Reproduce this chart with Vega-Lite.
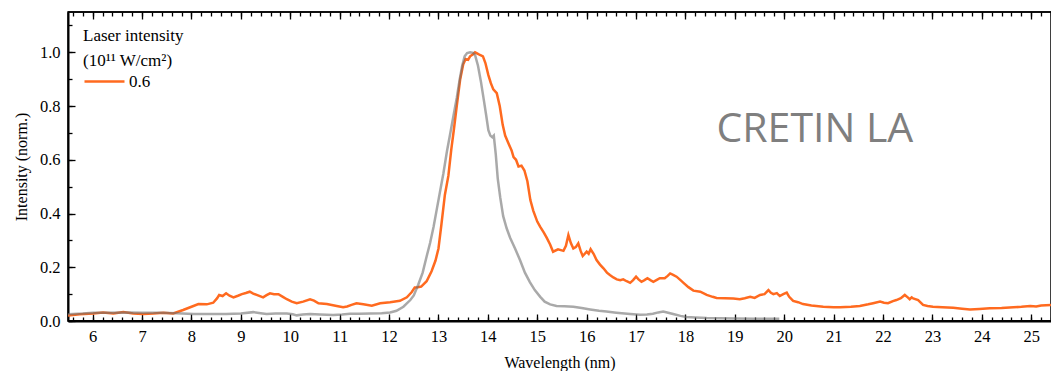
{
  "$schema": "https://vega.github.io/schema/vega-lite/v6.json",
  "width": 983,
  "height": 309,
  "autosize": {"type": "none"},
  "padding": {"left": 68, "top": 12, "right": 0, "bottom": 50},
  "background": "white",
  "config": {
    "view": {"stroke": "black", "strokeWidth": 1.5},
    "font": "Liberation Serif",
    "legend": {"titleFont": "Liberation Serif", "labelFont": "Liberation Serif"},
    "axis": {
      "grid": false,
      "domainColor": "black",
      "domainWidth": 2,
      "tickColor": "black",
      "tickWidth": 1.3,
      "labelColor": "black",
      "labelFont": "Liberation Serif",
      "labelFontSize": 16.5,
      "titleFont": "Liberation Serif",
      "titleFontSize": 16,
      "titleFontWeight": "normal",
      "titleColor": "black",
      "labelOverlap": false,
      "labelFlush": false,
      "labelBound": false
    }
  },
  "datasets": {
    "shot": [
      {"wavelength": 5.5, "intensity": 0.020, "laser": "0.6"},
      {"wavelength": 5.74, "intensity": 0.025, "laser": "0.6"},
      {"wavelength": 6.01, "intensity": 0.028, "laser": "0.6"},
      {"wavelength": 6.21, "intensity": 0.032, "laser": "0.6"},
      {"wavelength": 6.42, "intensity": 0.028, "laser": "0.6"},
      {"wavelength": 6.62, "intensity": 0.033, "laser": "0.6"},
      {"wavelength": 6.82, "intensity": 0.028, "laser": "0.6"},
      {"wavelength": 7.02, "intensity": 0.026, "laser": "0.6"},
      {"wavelength": 7.23, "intensity": 0.028, "laser": "0.6"},
      {"wavelength": 7.43, "intensity": 0.031, "laser": "0.6"},
      {"wavelength": 7.63, "intensity": 0.028, "laser": "0.6"},
      {"wavelength": 7.83, "intensity": 0.041, "laser": "0.6"},
      {"wavelength": 8.0, "intensity": 0.053, "laser": "0.6"},
      {"wavelength": 8.14, "intensity": 0.063, "laser": "0.6"},
      {"wavelength": 8.31, "intensity": 0.062, "laser": "0.6"},
      {"wavelength": 8.44, "intensity": 0.068, "laser": "0.6"},
      {"wavelength": 8.52, "intensity": 0.085, "laser": "0.6"},
      {"wavelength": 8.56, "intensity": 0.097, "laser": "0.6"},
      {"wavelength": 8.63, "intensity": 0.093, "laser": "0.6"},
      {"wavelength": 8.70, "intensity": 0.103, "laser": "0.6"},
      {"wavelength": 8.77, "intensity": 0.094, "laser": "0.6"},
      {"wavelength": 8.85, "intensity": 0.088, "laser": "0.6"},
      {"wavelength": 8.94, "intensity": 0.094, "laser": "0.6"},
      {"wavelength": 9.02, "intensity": 0.100, "laser": "0.6"},
      {"wavelength": 9.10, "intensity": 0.104, "laser": "0.6"},
      {"wavelength": 9.18, "intensity": 0.109, "laser": "0.6"},
      {"wavelength": 9.25, "intensity": 0.102, "laser": "0.6"},
      {"wavelength": 9.32, "intensity": 0.097, "laser": "0.6"},
      {"wavelength": 9.45, "intensity": 0.088, "laser": "0.6"},
      {"wavelength": 9.52, "intensity": 0.096, "laser": "0.6"},
      {"wavelength": 9.59, "intensity": 0.103, "laser": "0.6"},
      {"wavelength": 9.67, "intensity": 0.100, "laser": "0.6"},
      {"wavelength": 9.76, "intensity": 0.100, "laser": "0.6"},
      {"wavelength": 9.85, "intensity": 0.090, "laser": "0.6"},
      {"wavelength": 9.93, "intensity": 0.081, "laser": "0.6"},
      {"wavelength": 10.03, "intensity": 0.072, "laser": "0.6"},
      {"wavelength": 10.13, "intensity": 0.066, "laser": "0.6"},
      {"wavelength": 10.26, "intensity": 0.072, "laser": "0.6"},
      {"wavelength": 10.40, "intensity": 0.081, "laser": "0.6"},
      {"wavelength": 10.48, "intensity": 0.076, "laser": "0.6"},
      {"wavelength": 10.57, "intensity": 0.066, "laser": "0.6"},
      {"wavelength": 10.74, "intensity": 0.063, "laser": "0.6"},
      {"wavelength": 10.94, "intensity": 0.056, "laser": "0.6"},
      {"wavelength": 11.07, "intensity": 0.051, "laser": "0.6"},
      {"wavelength": 11.15, "intensity": 0.054, "laser": "0.6"},
      {"wavelength": 11.24, "intensity": 0.060, "laser": "0.6"},
      {"wavelength": 11.34, "intensity": 0.066, "laser": "0.6"},
      {"wavelength": 11.48, "intensity": 0.062, "laser": "0.6"},
      {"wavelength": 11.65, "intensity": 0.057, "laser": "0.6"},
      {"wavelength": 11.82, "intensity": 0.066, "laser": "0.6"},
      {"wavelength": 12.02, "intensity": 0.070, "laser": "0.6"},
      {"wavelength": 12.22, "intensity": 0.075, "laser": "0.6"},
      {"wavelength": 12.36, "intensity": 0.088, "laser": "0.6"},
      {"wavelength": 12.46, "intensity": 0.108, "laser": "0.6"},
      {"wavelength": 12.52, "intensity": 0.125, "laser": "0.6"},
      {"wavelength": 12.58, "intensity": 0.126, "laser": "0.6"},
      {"wavelength": 12.65, "intensity": 0.128, "laser": "0.6"},
      {"wavelength": 12.76, "intensity": 0.148, "laser": "0.6"},
      {"wavelength": 12.86, "intensity": 0.185, "laser": "0.6"},
      {"wavelength": 12.94, "intensity": 0.225, "laser": "0.6"},
      {"wavelength": 13.0, "intensity": 0.27, "laser": "0.6"},
      {"wavelength": 13.06, "intensity": 0.36, "laser": "0.6"},
      {"wavelength": 13.13, "intensity": 0.47, "laser": "0.6"},
      {"wavelength": 13.2, "intensity": 0.54, "laser": "0.6"},
      {"wavelength": 13.26, "intensity": 0.64, "laser": "0.6"},
      {"wavelength": 13.31, "intensity": 0.71, "laser": "0.6"},
      {"wavelength": 13.37, "intensity": 0.80, "laser": "0.6"},
      {"wavelength": 13.44, "intensity": 0.90, "laser": "0.6"},
      {"wavelength": 13.5, "intensity": 0.955, "laser": "0.6"},
      {"wavelength": 13.55, "intensity": 0.975, "laser": "0.6"},
      {"wavelength": 13.6, "intensity": 0.972, "laser": "0.6"},
      {"wavelength": 13.64, "intensity": 0.985, "laser": "0.6"},
      {"wavelength": 13.7, "intensity": 0.993, "laser": "0.6"},
      {"wavelength": 13.74, "intensity": 1.0, "laser": "0.6"},
      {"wavelength": 13.79, "intensity": 0.995, "laser": "0.6"},
      {"wavelength": 13.84, "intensity": 0.99, "laser": "0.6"},
      {"wavelength": 13.9, "intensity": 0.985, "laser": "0.6"},
      {"wavelength": 13.95, "intensity": 0.96, "laser": "0.6"},
      {"wavelength": 14.01, "intensity": 0.915, "laser": "0.6"},
      {"wavelength": 14.06, "intensity": 0.885, "laser": "0.6"},
      {"wavelength": 14.11, "intensity": 0.862, "laser": "0.6"},
      {"wavelength": 14.18, "intensity": 0.848, "laser": "0.6"},
      {"wavelength": 14.24, "intensity": 0.80, "laser": "0.6"},
      {"wavelength": 14.3, "intensity": 0.73, "laser": "0.6"},
      {"wavelength": 14.35, "intensity": 0.69, "laser": "0.6"},
      {"wavelength": 14.42, "intensity": 0.66, "laser": "0.6"},
      {"wavelength": 14.48, "intensity": 0.635, "laser": "0.6"},
      {"wavelength": 14.52, "intensity": 0.61, "laser": "0.6"},
      {"wavelength": 14.57, "intensity": 0.60, "laser": "0.6"},
      {"wavelength": 14.62, "intensity": 0.575, "laser": "0.6"},
      {"wavelength": 14.68, "intensity": 0.578, "laser": "0.6"},
      {"wavelength": 14.74, "intensity": 0.56, "laser": "0.6"},
      {"wavelength": 14.8, "intensity": 0.52, "laser": "0.6"},
      {"wavelength": 14.86, "intensity": 0.45, "laser": "0.6"},
      {"wavelength": 14.92, "intensity": 0.41, "laser": "0.6"},
      {"wavelength": 15.0, "intensity": 0.37, "laser": "0.6"},
      {"wavelength": 15.06, "intensity": 0.35, "laser": "0.6"},
      {"wavelength": 15.13, "intensity": 0.33, "laser": "0.6"},
      {"wavelength": 15.19, "intensity": 0.31, "laser": "0.6"},
      {"wavelength": 15.26, "intensity": 0.285, "laser": "0.6"},
      {"wavelength": 15.32, "intensity": 0.258, "laser": "0.6"},
      {"wavelength": 15.42, "intensity": 0.267, "laser": "0.6"},
      {"wavelength": 15.53, "intensity": 0.261, "laser": "0.6"},
      {"wavelength": 15.58, "intensity": 0.28, "laser": "0.6"},
      {"wavelength": 15.63, "intensity": 0.32, "laser": "0.6"},
      {"wavelength": 15.68, "intensity": 0.29, "laser": "0.6"},
      {"wavelength": 15.73, "intensity": 0.27, "laser": "0.6"},
      {"wavelength": 15.78, "intensity": 0.275, "laser": "0.6"},
      {"wavelength": 15.83, "intensity": 0.289, "laser": "0.6"},
      {"wavelength": 15.88, "intensity": 0.26, "laser": "0.6"},
      {"wavelength": 15.92, "intensity": 0.242, "laser": "0.6"},
      {"wavelength": 16.0, "intensity": 0.258, "laser": "0.6"},
      {"wavelength": 16.04, "intensity": 0.25, "laser": "0.6"},
      {"wavelength": 16.08, "intensity": 0.267, "laser": "0.6"},
      {"wavelength": 16.14, "intensity": 0.25, "laser": "0.6"},
      {"wavelength": 16.2, "intensity": 0.227, "laser": "0.6"},
      {"wavelength": 16.27, "intensity": 0.21, "laser": "0.6"},
      {"wavelength": 16.34, "intensity": 0.196, "laser": "0.6"},
      {"wavelength": 16.41, "intensity": 0.18, "laser": "0.6"},
      {"wavelength": 16.47, "intensity": 0.171, "laser": "0.6"},
      {"wavelength": 16.54, "intensity": 0.162, "laser": "0.6"},
      {"wavelength": 16.61, "intensity": 0.155, "laser": "0.6"},
      {"wavelength": 16.68, "intensity": 0.152, "laser": "0.6"},
      {"wavelength": 16.74, "intensity": 0.155, "laser": "0.6"},
      {"wavelength": 16.81, "intensity": 0.148, "laser": "0.6"},
      {"wavelength": 16.88, "intensity": 0.142, "laser": "0.6"},
      {"wavelength": 16.94, "intensity": 0.152, "laser": "0.6"},
      {"wavelength": 17.0, "intensity": 0.165, "laser": "0.6"},
      {"wavelength": 17.05, "intensity": 0.155, "laser": "0.6"},
      {"wavelength": 17.11, "intensity": 0.146, "laser": "0.6"},
      {"wavelength": 17.17, "intensity": 0.152, "laser": "0.6"},
      {"wavelength": 17.23, "intensity": 0.159, "laser": "0.6"},
      {"wavelength": 17.29, "intensity": 0.152, "laser": "0.6"},
      {"wavelength": 17.35, "intensity": 0.146, "laser": "0.6"},
      {"wavelength": 17.42, "intensity": 0.153, "laser": "0.6"},
      {"wavelength": 17.48, "intensity": 0.159, "laser": "0.6"},
      {"wavelength": 17.58, "intensity": 0.159, "laser": "0.6"},
      {"wavelength": 17.64, "intensity": 0.168, "laser": "0.6"},
      {"wavelength": 17.69, "intensity": 0.177, "laser": "0.6"},
      {"wavelength": 17.75, "intensity": 0.172, "laser": "0.6"},
      {"wavelength": 17.82, "intensity": 0.165, "laser": "0.6"},
      {"wavelength": 17.9, "intensity": 0.152, "laser": "0.6"},
      {"wavelength": 17.96, "intensity": 0.142, "laser": "0.6"},
      {"wavelength": 18.06, "intensity": 0.126, "laser": "0.6"},
      {"wavelength": 18.16, "intensity": 0.113, "laser": "0.6"},
      {"wavelength": 18.3, "intensity": 0.109, "laser": "0.6"},
      {"wavelength": 18.43, "intensity": 0.097, "laser": "0.6"},
      {"wavelength": 18.55, "intensity": 0.09, "laser": "0.6"},
      {"wavelength": 18.63, "intensity": 0.086, "laser": "0.6"},
      {"wavelength": 18.8, "intensity": 0.085, "laser": "0.6"},
      {"wavelength": 18.97, "intensity": 0.084, "laser": "0.6"},
      {"wavelength": 19.1, "intensity": 0.081, "laser": "0.6"},
      {"wavelength": 19.2, "intensity": 0.085, "laser": "0.6"},
      {"wavelength": 19.31, "intensity": 0.09, "laser": "0.6"},
      {"wavelength": 19.4, "intensity": 0.086, "laser": "0.6"},
      {"wavelength": 19.51, "intensity": 0.097, "laser": "0.6"},
      {"wavelength": 19.6, "intensity": 0.1, "laser": "0.6"},
      {"wavelength": 19.68, "intensity": 0.115, "laser": "0.6"},
      {"wavelength": 19.73, "intensity": 0.105, "laser": "0.6"},
      {"wavelength": 19.78, "intensity": 0.1, "laser": "0.6"},
      {"wavelength": 19.85, "intensity": 0.104, "laser": "0.6"},
      {"wavelength": 19.91, "intensity": 0.093, "laser": "0.6"},
      {"wavelength": 19.98, "intensity": 0.1, "laser": "0.6"},
      {"wavelength": 20.05, "intensity": 0.106, "laser": "0.6"},
      {"wavelength": 20.1, "intensity": 0.09, "laser": "0.6"},
      {"wavelength": 20.18, "intensity": 0.075, "laser": "0.6"},
      {"wavelength": 20.28, "intensity": 0.07, "laser": "0.6"},
      {"wavelength": 20.38, "intensity": 0.063, "laser": "0.6"},
      {"wavelength": 20.55, "intensity": 0.058, "laser": "0.6"},
      {"wavelength": 20.79, "intensity": 0.053, "laser": "0.6"},
      {"wavelength": 21.0, "intensity": 0.051, "laser": "0.6"},
      {"wavelength": 21.13, "intensity": 0.051, "laser": "0.6"},
      {"wavelength": 21.35, "intensity": 0.053, "laser": "0.6"},
      {"wavelength": 21.53, "intensity": 0.056, "laser": "0.6"},
      {"wavelength": 21.7, "intensity": 0.062, "laser": "0.6"},
      {"wavelength": 21.8, "intensity": 0.066, "laser": "0.6"},
      {"wavelength": 21.94, "intensity": 0.072, "laser": "0.6"},
      {"wavelength": 22.02, "intensity": 0.068, "laser": "0.6"},
      {"wavelength": 22.1, "intensity": 0.066, "laser": "0.6"},
      {"wavelength": 22.2, "intensity": 0.074, "laser": "0.6"},
      {"wavelength": 22.27, "intensity": 0.078, "laser": "0.6"},
      {"wavelength": 22.36, "intensity": 0.085, "laser": "0.6"},
      {"wavelength": 22.44, "intensity": 0.097, "laser": "0.6"},
      {"wavelength": 22.5, "intensity": 0.088, "laser": "0.6"},
      {"wavelength": 22.54, "intensity": 0.081, "laser": "0.6"},
      {"wavelength": 22.58, "intensity": 0.088, "laser": "0.6"},
      {"wavelength": 22.61, "intensity": 0.084, "laser": "0.6"},
      {"wavelength": 22.71, "intensity": 0.078, "laser": "0.6"},
      {"wavelength": 22.81, "intensity": 0.06, "laser": "0.6"},
      {"wavelength": 22.9, "intensity": 0.056, "laser": "0.6"},
      {"wavelength": 23.01, "intensity": 0.053, "laser": "0.6"},
      {"wavelength": 23.2, "intensity": 0.051, "laser": "0.6"},
      {"wavelength": 23.42, "intensity": 0.049, "laser": "0.6"},
      {"wavelength": 23.6, "intensity": 0.046, "laser": "0.6"},
      {"wavelength": 23.76, "intensity": 0.043, "laser": "0.6"},
      {"wavelength": 23.95, "intensity": 0.045, "laser": "0.6"},
      {"wavelength": 24.16, "intensity": 0.047, "laser": "0.6"},
      {"wavelength": 24.4, "intensity": 0.048, "laser": "0.6"},
      {"wavelength": 24.64, "intensity": 0.051, "laser": "0.6"},
      {"wavelength": 24.8, "intensity": 0.053, "laser": "0.6"},
      {"wavelength": 24.98, "intensity": 0.056, "laser": "0.6"},
      {"wavelength": 25.1, "intensity": 0.054, "laser": "0.6"},
      {"wavelength": 25.2, "intensity": 0.058, "laser": "0.6"},
      {"wavelength": 25.4, "intensity": 0.06, "laser": "0.6"}
    ],
    "cretin": [
      {"wavelength": 5.5, "intensity": 0.025},
      {"wavelength": 5.8, "intensity": 0.028},
      {"wavelength": 6.01, "intensity": 0.031},
      {"wavelength": 6.3, "intensity": 0.031},
      {"wavelength": 6.69, "intensity": 0.032},
      {"wavelength": 7.0, "intensity": 0.031},
      {"wavelength": 7.36, "intensity": 0.031},
      {"wavelength": 7.7, "intensity": 0.029},
      {"wavelength": 8.04, "intensity": 0.026},
      {"wavelength": 8.4, "intensity": 0.026},
      {"wavelength": 8.7, "intensity": 0.026},
      {"wavelength": 9.0, "intensity": 0.028},
      {"wavelength": 9.25, "intensity": 0.033},
      {"wavelength": 9.4, "intensity": 0.029},
      {"wavelength": 9.52, "intensity": 0.026},
      {"wavelength": 9.7, "intensity": 0.028},
      {"wavelength": 9.93, "intensity": 0.028},
      {"wavelength": 10.05, "intensity": 0.025},
      {"wavelength": 10.13, "intensity": 0.021},
      {"wavelength": 10.25, "intensity": 0.024},
      {"wavelength": 10.4, "intensity": 0.026},
      {"wavelength": 10.6, "intensity": 0.024},
      {"wavelength": 10.87, "intensity": 0.022},
      {"wavelength": 11.05, "intensity": 0.024},
      {"wavelength": 11.21, "intensity": 0.027},
      {"wavelength": 11.4, "intensity": 0.027},
      {"wavelength": 11.62, "intensity": 0.028},
      {"wavelength": 11.85, "intensity": 0.029},
      {"wavelength": 12.02, "intensity": 0.032},
      {"wavelength": 12.15, "intensity": 0.038},
      {"wavelength": 12.29, "intensity": 0.053},
      {"wavelength": 12.43, "intensity": 0.078},
      {"wavelength": 12.5, "intensity": 0.095},
      {"wavelength": 12.59, "intensity": 0.135},
      {"wavelength": 12.68, "intensity": 0.18},
      {"wavelength": 12.76, "intensity": 0.24},
      {"wavelength": 12.83, "intensity": 0.29},
      {"wavelength": 12.9, "intensity": 0.35},
      {"wavelength": 12.97, "intensity": 0.42},
      {"wavelength": 13.03, "intensity": 0.48},
      {"wavelength": 13.1, "intensity": 0.55},
      {"wavelength": 13.17, "intensity": 0.63},
      {"wavelength": 13.24, "intensity": 0.70},
      {"wavelength": 13.3, "intensity": 0.76},
      {"wavelength": 13.37, "intensity": 0.83},
      {"wavelength": 13.43, "intensity": 0.90},
      {"wavelength": 13.48, "intensity": 0.95},
      {"wavelength": 13.53, "intensity": 0.985},
      {"wavelength": 13.58, "intensity": 0.997},
      {"wavelength": 13.64, "intensity": 1.0},
      {"wavelength": 13.7, "intensity": 0.998},
      {"wavelength": 13.74, "intensity": 0.99},
      {"wavelength": 13.8, "intensity": 0.95},
      {"wavelength": 13.86, "intensity": 0.89},
      {"wavelength": 13.92, "intensity": 0.82},
      {"wavelength": 13.97, "intensity": 0.76},
      {"wavelength": 14.01, "intensity": 0.71},
      {"wavelength": 14.05, "intensity": 0.69},
      {"wavelength": 14.09, "intensity": 0.684},
      {"wavelength": 14.12, "intensity": 0.69},
      {"wavelength": 14.16, "intensity": 0.62},
      {"wavelength": 14.2, "intensity": 0.53},
      {"wavelength": 14.25, "intensity": 0.46},
      {"wavelength": 14.31, "intensity": 0.39},
      {"wavelength": 14.38, "intensity": 0.345},
      {"wavelength": 14.45, "intensity": 0.31},
      {"wavelength": 14.55, "intensity": 0.27},
      {"wavelength": 14.65, "intensity": 0.227},
      {"wavelength": 14.75, "intensity": 0.18},
      {"wavelength": 14.85, "intensity": 0.145},
      {"wavelength": 14.95, "intensity": 0.115},
      {"wavelength": 15.06, "intensity": 0.09},
      {"wavelength": 15.15, "intensity": 0.072},
      {"wavelength": 15.26, "intensity": 0.062},
      {"wavelength": 15.39, "intensity": 0.056},
      {"wavelength": 15.55, "intensity": 0.055},
      {"wavelength": 15.73, "intensity": 0.053},
      {"wavelength": 15.9, "intensity": 0.048},
      {"wavelength": 16.07, "intensity": 0.043},
      {"wavelength": 16.25, "intensity": 0.038},
      {"wavelength": 16.4, "intensity": 0.035},
      {"wavelength": 16.6, "intensity": 0.031},
      {"wavelength": 16.88, "intensity": 0.026},
      {"wavelength": 17.08, "intensity": 0.023},
      {"wavelength": 17.22, "intensity": 0.024},
      {"wavelength": 17.34, "intensity": 0.027},
      {"wavelength": 17.45, "intensity": 0.032},
      {"wavelength": 17.55, "intensity": 0.035},
      {"wavelength": 17.65, "intensity": 0.031},
      {"wavelength": 17.75, "intensity": 0.026},
      {"wavelength": 17.9, "intensity": 0.019},
      {"wavelength": 18.02, "intensity": 0.015},
      {"wavelength": 18.2, "intensity": 0.013},
      {"wavelength": 18.43, "intensity": 0.011},
      {"wavelength": 18.7, "intensity": 0.010},
      {"wavelength": 19.0, "intensity": 0.009},
      {"wavelength": 19.4, "intensity": 0.008},
      {"wavelength": 19.9, "intensity": 0.008}
    ]
  },
  "layer": [
    {
      "data": {"name": "shot"},
      "mark": {"type": "line", "strokeWidth": 2.5, "clip": true},
      "encoding": {
        "x": {
          "field": "wavelength",
          "type": "quantitative",
          "scale": {"domain": [5.5, 25.4], "nice": false, "zero": false},
          "axis": {
            "orient": "bottom",
            "title": "Wavelength (nm)",
            "tickCount": 20,
            "format": "d",
            "ticks": false,
            "offset": 0,
            "labelPadding": 7,
            "titlePadding": 10
          }
        },
        "y": {
          "field": "intensity",
          "type": "quantitative",
          "scale": {"domain": [0, 1.15], "nice": false},
          "axis": {
            "orient": "left",
            "title": "Intensity (norm.)",
            "tickCount": 6,
            "format": ".1f",
            "ticks": false,
            "offset": 0,
            "labelPadding": 8,
            "titlePadding": 10
          }
        },
        "color": {
          "field": "laser",
          "type": "nominal",
          "scale": {"range": ["#ff6a1f"]},
          "legend": {
            "orient": "none",
            "legendX": 15,
            "legendY": 16,
            "padding": 0,
            "title": ["Laser intensity", "(10¹¹ W/cm²)"],
            "titleFont": "Liberation Serif",
            "titleFontSize": 17,
            "titleFontWeight": "normal",
            "titleColor": "black",
            "titleLineHeight": 25,
            "titlePadding": -10,
            "labelFont": "Liberation Serif",
            "labelFontSize": 17,
            "labelColor": "black",
            "labelOffset": 3,
            "symbolType": "stroke",
            "symbolSize": 1600,
            "symbolStrokeWidth": 2.5
          }
        }
      }
    },
    {
      "data": {"name": "cretin"},
      "mark": {"type": "line", "strokeWidth": 2.5, "color": "#707070", "opacity": 0.6, "clip": true},
      "encoding": {
        "x": {
          "field": "wavelength",
          "type": "quantitative",
          "axis": {"orient": "bottom", "title": null, "labels": false, "domain": false, "tickCount": 20, "tickSize": 7, "offset": -7}
        },
        "y": {
          "field": "intensity",
          "type": "quantitative",
          "axis": {"orient": "left", "title": null, "labels": false, "domain": false, "tickCount": 6, "tickSize": 7, "offset": -7}
        }
      }
    },
    {
      "data": {"values": [{}]},
      "mark": {"type": "text", "text": "CRETIN LA", "font": "Open Sans", "fontSize": 41, "color": "#7f7f7f", "align": "center", "baseline": "alphabetic"},
      "encoding": {
        "x": {
          "datum": 20.62,
          "type": "quantitative",
          "axis": {"orient": "bottom", "title": null, "labels": false, "domain": false, "tickCount": 100, "tickSize": 4, "offset": -4}
        },
        "y": {
          "datum": 0.665,
          "type": "quantitative",
          "axis": {"orient": "left", "title": null, "labels": false, "domain": false, "tickCount": 12, "tickSize": 4, "offset": -4}
        }
      }
    },
    {
      "data": {"values": [{}]},
      "mark": {"type": "rule", "color": "black", "strokeWidth": 2},
      "encoding": {
        "x": {
          "datum": 5.5,
          "type": "quantitative",
          "axis": {"orient": "top", "title": null, "labels": false, "domain": false, "tickCount": 20, "tickSize": 7, "offset": -7}
        },
        "x2": {"datum": 25.4},
        "y": {"datum": 0, "type": "quantitative", "axis": null}
      }
    },
    {
      "data": {"values": [{}]},
      "mark": {"type": "rule", "color": "black", "strokeWidth": 1.5},
      "encoding": {
        "x": {
          "datum": 5.5,
          "type": "quantitative",
          "axis": {"orient": "top", "title": null, "labels": false, "domain": false, "tickCount": 100, "tickSize": 4, "offset": -4}
        },
        "x2": {"datum": 25.4},
        "y": {"datum": 1.15, "type": "quantitative", "axis": null}
      }
    }
  ],
  "resolve": {"axis": {"x": "independent", "y": "independent"}}
}
